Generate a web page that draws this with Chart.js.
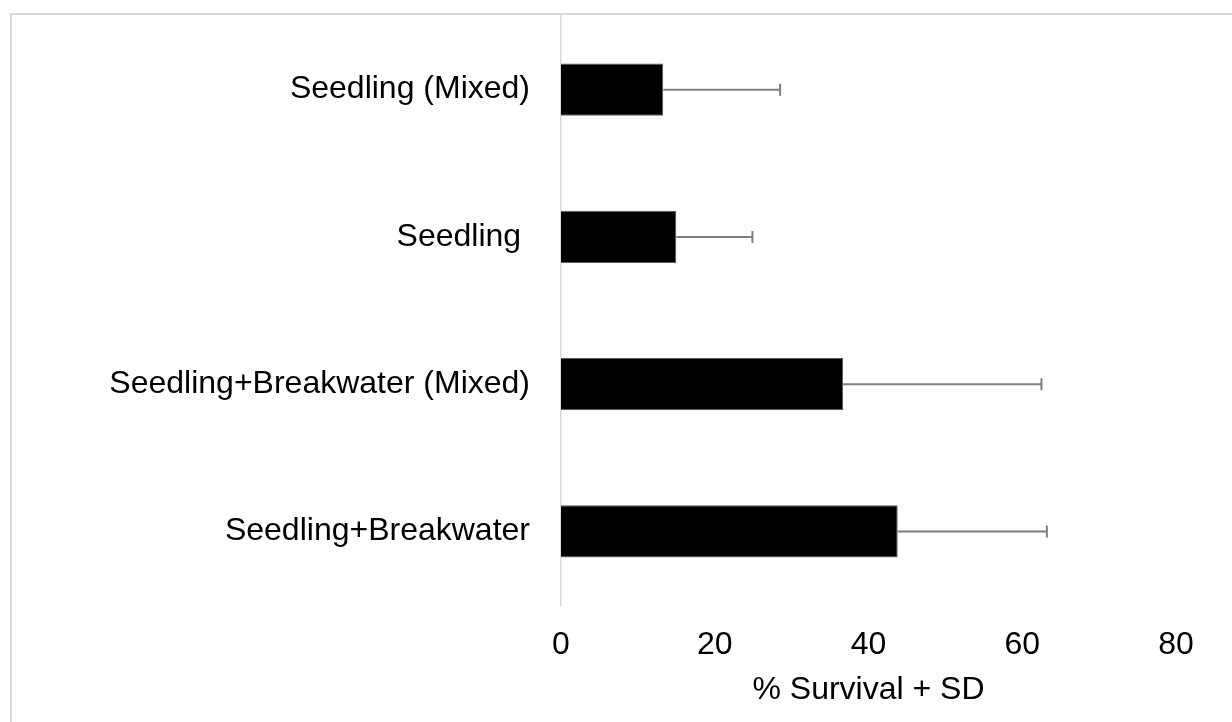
<!DOCTYPE html>
<html>
<head>
<meta charset="utf-8">
<script src="https://cdn.jsdelivr.net/npm/chart.js@4.4.1/dist/chart.umd.min.js"></script>
<style>
  html, body { margin: 0; padding: 0; background: #fff; overflow: hidden; }
  #wrap { position: relative; width: 1232px; height: 722px; }
  #frame {
    position: absolute; left: 10px; top: 13px;
    width: 1240px; height: 730px;
    border: 2px solid #d9d9d9; box-sizing: border-box;
  }
  canvas { position: absolute; left: 0; top: 0; }
</style>
</head>
<body>
<div id="wrap">
  <div id="frame"></div>
  <canvas id="chart" width="1232" height="722"></canvas>
</div>
<script>
// categories, top to bottom
const categories = ['Seedling (Mixed)', 'Seedling ', 'Seedling+Breakwater (Mixed)', 'Seedling+Breakwater'];
// mean % survival
const survival = [13.3, 15.0, 36.7, 43.8];
// standard deviation (drawn as + error bar)
const sd = [15.2, 9.9, 25.8, 19.4];
const xTicks = [0, 20, 40, 60, 80];

const FONT = 'Arial, "Liberation Sans", sans-serif';

// draws the "+ SD" whiskers using the x scale
const errorBars = {
  id: 'errorBars',
  afterDatasetsDraw(chart) {
    const ctx = chart.ctx;
    const xScale = chart.scales.x;
    const meta = chart.getDatasetMeta(0);
    ctx.save();
    ctx.strokeStyle = '#7f7f7f';
    ctx.lineWidth = 2;
    meta.data.forEach((bar, i) => {
      const x0 = xScale.getPixelForValue(survival[i]);
      const x1 = xScale.getPixelForValue(survival[i] + sd[i]);
      const y = bar.y;
      ctx.beginPath();
      ctx.moveTo(x0, y);
      ctx.lineTo(x1, y);
      ctx.moveTo(x1, y - 6);
      ctx.lineTo(x1, y + 6);
      ctx.stroke();
    });
    ctx.restore();
  }
};

// keep the plot area where the reference has it
function noPad(axis) {
  axis.paddingTop = 0;
  axis.paddingBottom = 0;
  axis.paddingLeft = 0;
  axis.paddingRight = 0;
}

new Chart(document.getElementById('chart').getContext('2d'), {
  type: 'bar',
  data: {
    labels: categories,
    datasets: [{
      data: survival,
      backgroundColor: '#000000',
      borderColor: '#595959',
      borderWidth: 1,
      categoryPercentage: 1,
      barPercentage: 0.354,
    }]
  },
  options: {
    indexAxis: 'y',
    responsive: false,
    animation: false,
    layout: { padding: { top: 16, right: 56, bottom: 13, left: 0 } },
    plugins: {
      legend: { display: false },
      tooltip: { enabled: false },
    },
    scales: {
      x: {
        min: 0,
        max: 80,
        afterBuildTicks: (axis) => { axis.ticks = xTicks.map(v => ({ value: v })); },
        grid: { display: false, drawTicks: false, tickLength: 0 },
        border: { display: false },
        ticks: { color: '#000', padding: 21, maxRotation: 0, font: { family: FONT, size: 32 } },
        title: { display: true, text: '% Survival + SD', color: '#000', padding: 0, font: { family: FONT, size: 32 } },
        afterFit: (axis) => { axis.height = 104; noPad(axis); },
      },
      y: {
        grid: { display: false, drawTicks: false, tickLength: 0 },
        border: { display: true, color: '#d9d9d9', width: 1.5 },
        ticks: { color: '#000', padding: 31, font: { family: FONT, size: 32 } },
        afterFit: (axis) => { axis.width = 561; noPad(axis); },
      }
    }
  },
  plugins: [errorBars]
});
</script>
</body>
</html>
